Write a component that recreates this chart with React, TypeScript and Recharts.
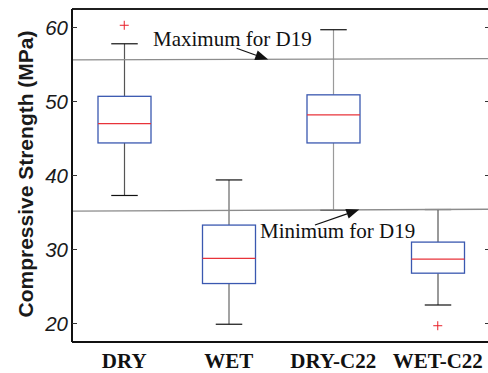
import React from 'react';
import { ComposedChart, Bar, Scatter, XAxis, YAxis, ReferenceLine, ReferenceDot, CartesianGrid, Label } from 'recharts';

// ---- data ----
const categories = ['DRY', 'WET', 'DRY-C22', 'WET-C22'];
const whiskerLow = [37.3, 19.9, 35.3, 22.5];
const q1 = [44.4, 25.4, 44.4, 26.8];
const median = [47.0, 28.8, 48.2, 28.7];
const q3 = [50.7, 33.3, 50.9, 31.0];
const whiskerHigh = [57.8, 39.4, 59.7, 35.4];
const outliers: (number | null)[] = [60.3, null, null, 19.7];
const yTicks = [20, 30, 40, 50, 60];
const yDomain = [17.5, 62.5];
const maxLimit = [55.62, 55.8]; // D19 maximum line (left end, right end)
const minLimit = [35.18, 35.45]; // D19 minimum line (left end, right end)
const maxLabel = 'Maximum for D19';
const minLabel = 'Minimum for D19';

// annotation anchors in data space (x on a 0..4 numeric axis, category i centred at i+0.5)
const maxText = { x: 0.775, y: 57.54 };
const maxArrow = [{ x: 1.575, y: 57.19 }, { x: 1.878, y: 55.66 }];
const minText = { x: 1.799, y: 31.51 };
const minArrow = [{ x: 2.325, y: 33.31 }, { x: 2.749, y: 35.4 }];

const data = categories.map((name, i) => ({
  name,
  pos: i + 0.5,
  range: [whiskerLow[i], whiskerHigh[i]],
  low: whiskerLow[i],
  q1: q1[i],
  median: median[i],
  q3: q3[i],
  high: whiskerHigh[i],
  outlier: outliers[i],
}));

const whiskerColors = ['#555555', '#666666', '#9a9a9a', '#555555'];

const BoxShape = (props: any) => {
  const { x, y, width, height, payload, index } = props;
  const top = Math.min(y, y + height);
  const bottom = Math.max(y, y + height);
  const lo = payload.low;
  const hi = payload.high;
  const py = (v: number) => bottom - ((bottom - top) * (v - lo)) / (hi - lo);
  const cx = x + width / 2;
  const capHalf = width / 4;
  const wc = whiskerColors[index] || '#555';
  return (
    <g>
      <line x1={cx} x2={cx} y1={py(hi)} y2={py(payload.q3)} stroke={wc} strokeWidth={1.2} />
      <line x1={cx} x2={cx} y1={py(payload.q1)} y2={py(lo)} stroke={wc} strokeWidth={1.2} />
      <line x1={cx - capHalf} x2={cx + capHalf} y1={py(hi)} y2={py(hi)} stroke="#111" strokeWidth={1.2} />
      <line x1={cx - capHalf} x2={cx + capHalf} y1={py(lo)} y2={py(lo)} stroke="#111" strokeWidth={1.2} />
      <rect x={x} y={py(payload.q3)} width={width} height={py(payload.q1) - py(payload.q3)} fill="#fff" stroke="#3a58b0" strokeWidth={1.3} />
      <line x1={x} x2={x + width} y1={py(payload.median)} y2={py(payload.median)} stroke="#e8333a" strokeWidth={1.2} />
    </g>
  );
};

const PlusShape = (props: any) => {
  const { cx, cy, payload } = props;
  if (payload == null || payload.outlier == null || !Number.isFinite(cx) || !Number.isFinite(cy)) return <g />;
  return (
    <g>
      <line x1={cx - 4.5} x2={cx + 4.5} y1={cy} y2={cy} stroke="#e8202a" strokeWidth={1} />
      <line x1={cx} x2={cx} y1={cy - 4.5} y2={cy + 4.5} stroke="#e8202a" strokeWidth={1} />
    </g>
  );
};

const LeftTick = (p: any) => (
  <g>
    <line x1={p.x} x2={p.x + 5} y1={p.y} y2={p.y} stroke="#333" strokeWidth={1} />
    <text x={p.x - 4} y={p.y} dy="0.36em" textAnchor="end" fontStyle="italic" fontSize={20.5} fill="#1a1a1a" fontFamily="Liberation Sans, Arial, sans-serif">
      {p.payload.value}
    </text>
  </g>
);

const RightTick = (p: any) => (
  <line x1={p.x - 5} x2={p.x} y1={p.y} y2={p.y} stroke="#333" strokeWidth={1} />
);

const BottomTick = (p: any) => (
  <text x={p.x} y={p.y + 26} textAnchor="middle" fontWeight="bold" fontSize={21} fill="#111" fontFamily="Liberation Serif, 'Times New Roman', serif">
    {p.payload.value}
  </text>
);

const Arrow = (p: any) => {
  const { x1, y1, x2, y2 } = p;
  const ang = Math.atan2(y2 - y1, x2 - x1);
  const L = 13;
  const W = 5;
  const bx = x2 - L * Math.cos(ang);
  const by = y2 - L * Math.sin(ang);
  const nx = -Math.sin(ang);
  const ny = Math.cos(ang);
  return (
    <g>
      <line x1={x1} y1={y1} x2={bx} y2={by} stroke="#111" strokeWidth={1.2} />
      <polygon points={`${x2},${y2} ${bx + nx * W},${by + ny * W} ${bx - nx * W},${by - ny * W}`} fill="#111" />
    </g>
  );
};

const textShape = (label: string) => (p: any) => (
  <text x={p.cx} y={p.cy} textAnchor="start" fontSize={21} fill="#111" fontFamily="Liberation Serif, 'Times New Roman', serif">
    {label}
  </text>
);

export default function App() {
  return (
    <div style={{ position: 'absolute', left: 0, top: 0, width: 488, height: 373, overflow: 'hidden', background: '#fff' }}>
      <ComposedChart width={500} height={373} data={data} margin={{ top: 9, right: 0, bottom: 0, left: 0 }}>
        <CartesianGrid vertical={false} horizontalValues={[yDomain[1]]} stroke="#111" strokeWidth={1.6} strokeOpacity={1} />
        <XAxis
          dataKey="name"
          type="category"
          height={31}
          axisLine={{ stroke: '#111', strokeWidth: 2 }}
          tickLine={false}
          tickSize={0}
          tickMargin={0}
          tick={<BottomTick />}
          interval={0}
        />
        <XAxis xAxisId="n" dataKey="pos" type="number" domain={[0, 4]} height={0} hide allowDataOverflow />
        <YAxis
          domain={yDomain}
          ticks={yTicks}
          type="number"
          width={72}
          allowDataOverflow
          axisLine={{ stroke: '#111', strokeWidth: 2 }}
          tickLine={false}
          tickSize={0}
          tickMargin={0}
          tick={<LeftTick />}
        >
          <Label
            content={() => (
              <text transform="translate(25,174) rotate(-90)" textAnchor="middle" dominantBaseline="central" fontWeight="bold" fontSize={21} fill="#1a1a1a" fontFamily="Liberation Sans, Arial, sans-serif">
                Compressive Strength (MPa)
              </text>
            )}
          />
        </YAxis>
        <YAxis yAxisId="r" orientation="right" domain={yDomain} ticks={yTicks} type="number" width={10} allowDataOverflow axisLine={{ stroke: '#111', strokeWidth: 1.5 }} tickLine={false} tickSize={0} tickMargin={0} tick={<RightTick />} />

        <ReferenceLine y={yDomain[1]} stroke="#111" strokeWidth={1.6} />
        <ReferenceLine xAxisId="n" segment={[{ x: 0, y: maxLimit[0] }, { x: 4, y: maxLimit[1] }]} stroke="#8c8c8c" strokeWidth={1.4} ifOverflow="visible" />
        <ReferenceLine xAxisId="n" segment={[{ x: 0, y: minLimit[0] }, { x: 4, y: minLimit[1] }]} stroke="#8c8c8c" strokeWidth={1.4} ifOverflow="visible" />

        <Bar dataKey="range" barSize={53} shape={<BoxShape />} isAnimationActive={false} />
        <Scatter dataKey="outlier" shape={<PlusShape />} isAnimationActive={false} />

        <ReferenceLine xAxisId="n" segment={maxArrow} shape={<Arrow />} ifOverflow="visible" />
        <ReferenceLine xAxisId="n" segment={minArrow} shape={<Arrow />} ifOverflow="visible" />
        <ReferenceDot xAxisId="n" x={maxText.x} y={maxText.y} r={0} shape={textShape(maxLabel)} ifOverflow="visible" />
        <ReferenceDot xAxisId="n" x={minText.x} y={minText.y} r={0} shape={textShape(minLabel)} ifOverflow="visible" />
      </ComposedChart>
    </div>
  );
}
